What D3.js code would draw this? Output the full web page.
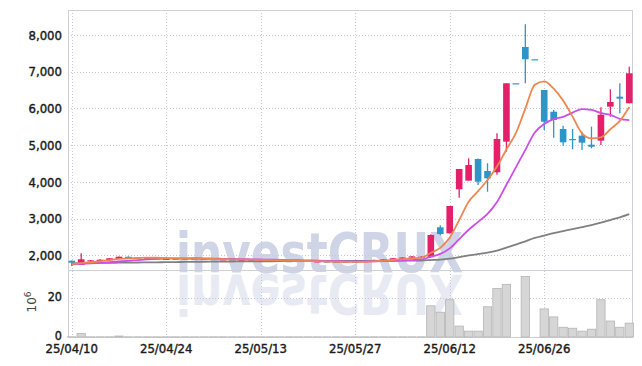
<!DOCTYPE html>
<html><head><meta charset="utf-8">
<script src="https://cdn.jsdelivr.net/npm/d3@7"></script>
<style>body{margin:0;background:#fff}svg{display:block}</style>
</head><body>
<svg id="c" width="642" height="366"></svg>
<script>
const dates = ["25/04/10","25/04/11","25/04/14","25/04/15","25/04/16","25/04/17","25/04/18","25/04/21","25/04/22","25/04/23",
"25/04/24","25/04/25","25/04/28","25/04/29","25/04/30","25/05/02","25/05/07","25/05/08","25/05/09","25/05/12",
"25/05/13","25/05/14","25/05/15","25/05/16","25/05/19","25/05/20","25/05/21","25/05/22","25/05/23","25/05/26",
"25/05/27","25/05/28","25/05/29","25/05/30","25/06/02","25/06/04","25/06/05","25/06/09","25/06/10","25/06/11",
"25/06/12","25/06/13","25/06/16","25/06/17","25/06/18","25/06/19","25/06/20","25/06/23","25/06/24","25/06/25",
"25/06/26","25/06/27","25/06/30","25/07/01","25/07/02","25/07/03","25/07/04","25/07/07","25/07/08","25/07/09"];
const open = [1858,1741,1835,1850,1869,1905,1965,1945,1920,1925, 1905,1905,1915,1905,1895,1905,1885,1895,1880,1885,
1870,1860,1870,1850,1845,1855,1830,1840,1830,1810, 1835,1825,1860,1870,1890,1920,1940,1940,1955,2767,
2604,3801,4036,4626,4299,4264,5097,6686,7674,7340, 6503,5912,5442,5170,5260,5015,5125,6050,6321,6142];
const high = [1862,2060,1875,1895,1930,1975,1975,1960,1945,1940, 1930,1925,1930,1920,1915,1915,1905,1905,1895,1895,
1885,1880,1880,1865,1860,1860,1850,1848,1840,1840, 1845,1870,1885,1900,1930,1955,1985,1985,2580,2820,
3347,4354,4645,4640,4509,5325,6686,6686,8290,7340, 6503,5959,5533,5442,5370,5506,6033,6522,6686,7137];
const low = [1714,1741,1828,1845,1860,1900,1940,1925,1915,1905, 1900,1895,1900,1890,1885,1885,1875,1875,1865,1860,
1855,1850,1845,1835,1830,1825,1820,1800,1800,1805, 1815,1820,1850,1860,1880,1905,1930,1935,1950,2550,
2600,3573,4036,3918,3736,4200,4824,6686,6686,7340, 5415,5204,4988,4890,4870,4917,5007,5776,5870,6142];
const close = [1804,1897,1869,1886,1924,1967,1950,1935,1925,1915, 1910,1918,1905,1898,1908,1890,1895,1880,1888,1870,
1860,1872,1850,1845,1855,1830,1842,1808,1810,1835, 1825,1862,1880,1895,1925,1945,1975,1965,2558,2585,
3347,4354,4463,4008,4100,5170,6686,6686,7340,7340, 5640,5687,5080,5143,5070,4960,5830,6177,6267,6958];
const volume = [0.1,1.8,0.1,0.1,0.1,0.5,0.1,0.1,0.1,0.1, 0.1,0.1,0.1,0.1,0.1,0.1,0.1,0.1,0.1,0.1,
0.1,0.1,0.1,0.1,0.1,0.1,0.1,0.1,0.1,0.1, 0.1,0.1,0.1,0.1,0.1,0.1,0.1,0.1,16,12.7,
19.1,5.6,3,3,15.5,24.9,27,0,31,0, 14.4,10.3,5,4.5,3,4,19.1,8.2,5,7.1];
const ma5 = [1764,1793,1815,1843,1876,1909,1919,1932,1940,1938, 1927,1921,1915,1909,1908,1904,1899,1894,1892,1885,
1879,1874,1868,1859,1856,1850,1844,1836,1829,1825, 1824,1828,1842,1859,1877,1901,1924,1941,2074,2206,
2486,2962,3461,3751,4054,4419,4885,5330,5996,6644, 6738,6539,6217,5778,5324,5188,5217,5436,5661,6038];
const ma10 = [1757,1772,1784,1798,1816,1836,1856,1874,1892,1907, 1918,1920,1924,1925,1923,1915,1910,1904,1901,1896,
1891,1887,1881,1876,1871,1865,1859,1852,1844,1841, 1837,1836,1839,1844,1851,1863,1876,1892,1967,2042,
2194,2443,2701,2913,3130,3453,3924,4396,4874,5349, 5579,5712,5774,5887,5984,5963,5878,5827,5719,5681];
const ma60 = [1790,1792,1795,1798,1800,1803,1806,1809,1812,1815, 1818,1821,1824,1827,1830,1832,1834,1836,1838,1840,
1842,1843,1844,1845,1846,1847,1848,1848,1849,1850, 1851,1852,1853,1855,1857,1859,1861,1863,1876,1889,
1915,1957,2001,2038,2076,2132,2213,2294,2386,2478, 2542,2607,2662,2718,2772,2825,2892,2965,3039,3125];
const priceTicks = [2000,3000,4000,5000,6000,7000,8000];
const volTicks = [0,20];
const dateTicks = ["25/04/10","25/04/24","25/05/13","25/05/27","25/06/12","25/06/26"];

const UP="#e4206b", DOWN="#2e95c8";
const FONT="'DejaVu Sans Condensed', 'DejaVu Sans', sans-serif";
const svg = d3.select("#c");
const L=68, R=632, T=10, M=270, B=337;
const x = d3.scaleBand().domain(dates).range([67,634]);
const xc = d => x(d) + x.bandwidth()/2;
const y = d3.scaleLinear().domain([1605,8680]).range([M,T]);
const yv = d3.scaleLinear().domain([0,34.36]).range([B,M]);
const data = dates.map((d,i)=>({d,o:open[i],h:high[i],l:low[i],c:close[i],v:volume[i]}));

svg.append("rect").attr("width",642).attr("height",366).attr("fill","#fff");

// grid
const grid = svg.append("g").attr("stroke","#c6c6d8").attr("stroke-width",1).attr("stroke-dasharray","1,2");
grid.selectAll(".hg").data(priceTicks).join("line").attr("x1",L).attr("x2",R)
  .attr("y1",d=>Math.round(y(d))+0.5).attr("y2",d=>Math.round(y(d))+0.5);
grid.selectAll(".vg").data(volTicks.filter(v=>v>0)).join("line").attr("x1",L).attr("x2",R)
  .attr("y1",d=>Math.round(yv(d))+0.5).attr("y2",d=>Math.round(yv(d))+0.5);
grid.selectAll(".xg").data(dateTicks).join("line").attr("y1",T).attr("y2",B)
  .attr("x1",d=>Math.round(xc(d))+0.5).attr("x2",d=>Math.round(xc(d))+0.5);

// watermark
const wm = svg.append("g");
wm.append("text").attr("x",176).attr("y",272).attr("font-family",FONT).attr("font-weight","bold")
  .attr("font-size",55).attr("textLength",287).attr("lengthAdjust","spacingAndGlyphs")
  .attr("fill","#c4cbe0").attr("opacity",0.8).text("investCRUX");
wm.append("text").attr("x",176).attr("y",272).attr("font-family",FONT).attr("font-weight","bold")
  .attr("font-size",55).attr("textLength",287).attr("lengthAdjust","spacingAndGlyphs")
  .attr("transform","translate(0,547) scale(1,-1)")
  .attr("fill","#c4cbe0").attr("opacity",0.4).text("investCRUX");

// frame
const fr = svg.append("g").attr("stroke","#cfcfd6").attr("stroke-width",1).attr("fill","none");
fr.append("rect").attr("x",L+0.5).attr("y",T+0.5).attr("width",R-L).attr("height",B-T);
fr.append("line").attr("x1",L).attr("x2",R).attr("y1",M+0.5).attr("y2",M+0.5);

// volume bars
const bw = x.bandwidth()*0.88;
svg.append("g").selectAll("rect").data(data.filter(d=>d.v>0)).join("rect")
  .attr("x",d=>xc(d.d)-bw/2).attr("width",bw)
  .attr("y",d=>yv(d.v)).attr("height",d=>B-yv(d.v))
  .attr("fill","#d6d6d6").attr("stroke","#b4b4b4").attr("stroke-width",0.8);

// candles
const cw = x.bandwidth()*0.7;
const cg = svg.append("g");
cg.selectAll("line").data(data).join("line")
  .attr("x1",d=>xc(d.d)).attr("x2",d=>xc(d.d))
  .attr("y1",d=>y(d.h)).attr("y2",d=>y(d.l))
  .attr("stroke",d=>d.c>d.o?UP:DOWN).attr("stroke-width",1.3);
cg.selectAll("rect").data(data).join("rect")
  .attr("x",d=>xc(d.d)-cw/2).attr("width",cw)
  .attr("y",d=>y(Math.max(d.o,d.c)))
  .attr("height",d=>Math.max(1.2, Math.abs(y(d.o)-y(d.c))))
  .attr("fill",d=>d.c>d.o?UP:DOWN);

// moving averages
const line = arr => d3.line().x((d,i)=>xc(dates[i])).y(d=>y(d)).curve(d3.curveMonotoneX)(arr);
svg.append("path").attr("d",line(ma60)).attr("fill","none").attr("stroke","#808080").attr("stroke-width",1.8);
svg.append("path").attr("d",line(ma10)).attr("fill","none").attr("stroke","#cc4ee8").attr("stroke-width",1.8);
svg.append("path").attr("d",line(ma5)).attr("fill","none").attr("stroke","#ee8650").attr("stroke-width",1.8);

// axes
const fmt = d3.format(",");
const ay = svg.append("g").attr("transform",`translate(${L-4},0)`)
  .call(d3.axisLeft(y).tickValues(priceTicks).tickFormat(fmt).tickSize(0).tickPadding(2));
const av = svg.append("g").attr("transform",`translate(${L-4},-2)`)
  .call(d3.axisLeft(yv).tickValues(volTicks).tickSize(0).tickPadding(2));
const ax = svg.append("g").attr("transform",`translate(0,${B+4})`)
  .call(d3.axisBottom(x).tickValues(dateTicks).tickSize(0).tickPadding(3));
[ay,av,ax].forEach(g=>{
  g.select(".domain").remove();
  g.selectAll("text").attr("font-family",FONT).attr("font-size",13).attr("font-weight","normal")
    .attr("fill","#1a1a1a").attr("stroke","#1a1a1a").attr("stroke-width",0.4);
});
av.selectAll("text").attr("font-size",12.5);
const vt = svg.append("text").attr("transform","translate(36,302) rotate(-90)")
  .attr("text-anchor","middle").attr("font-family","'DejaVu Sans', sans-serif").attr("font-size",12).attr("fill","#444");
vt.append("tspan").text("10");
vt.append("tspan").attr("dy",-5).attr("font-size",9).text("6");
</script>
</body></html>
